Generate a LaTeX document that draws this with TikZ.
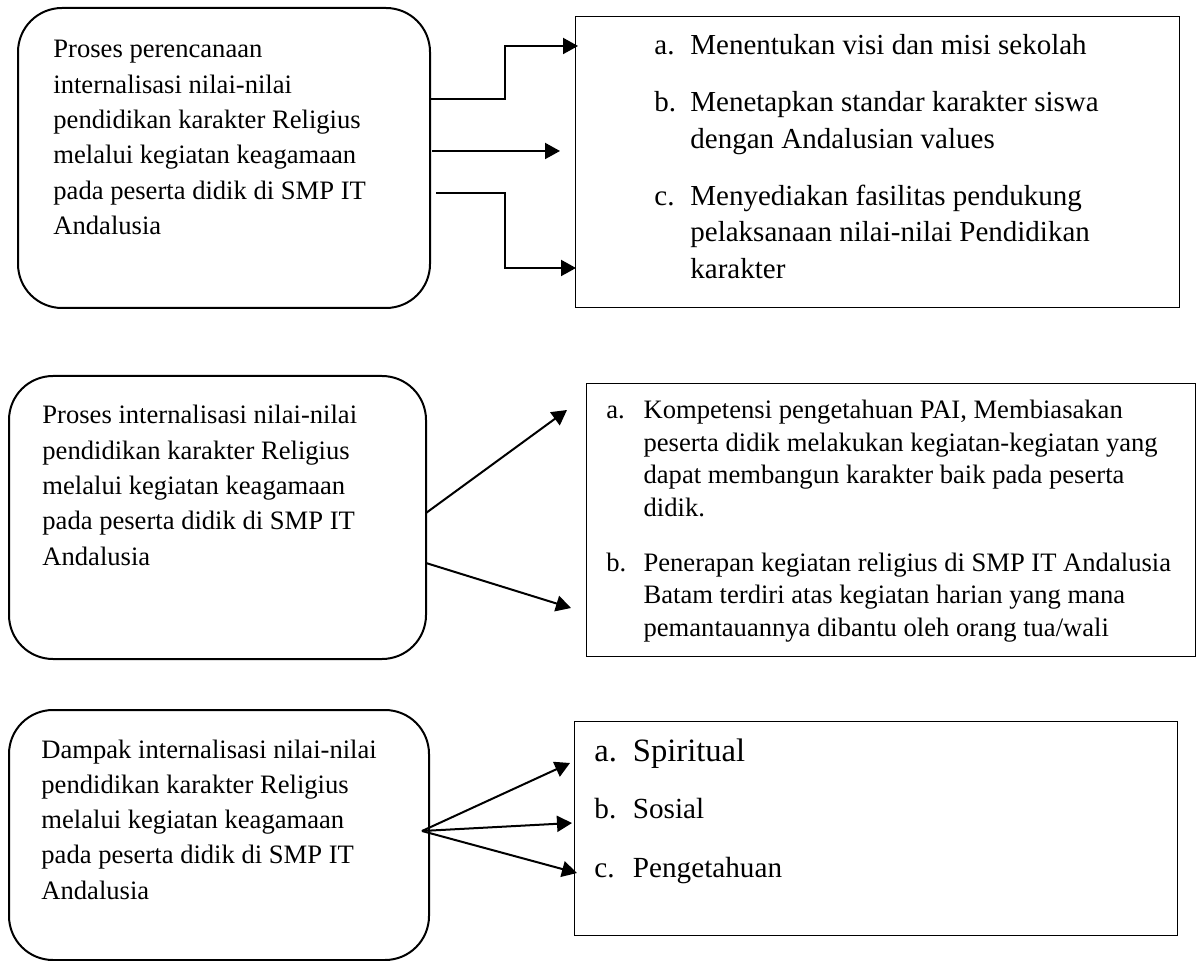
\documentclass[tikz,border=0pt]{standalone}
\usepackage{fontspec}
\setmainfont{Liberation Serif}
\usetikzlibrary{arrows.meta}

\begin{document}
\begin{tikzpicture}[x=0.5pt,y=-0.5pt,
  roundbox/.style={draw,line width=1pt,rounded corners=22pt,anchor=north west},
  listbox/.style={draw,line width=0.6pt,anchor=north west},
  link/.style={line width=1pt,-{Triangle[length=7.5pt,width=8pt]}},
  txt/.style={anchor=base west,inner sep=0pt,font=\fontsize{13.3}{17.65}\selectfont}]

\useasboundingbox (0,0) rectangle (1202,961);

% Left rounded boxes
\node[roundbox,minimum width=206pt,minimum height=150pt] (plan) at (17,7) {};
\node[roundbox,minimum width=208.5pt,minimum height=141.5pt] (proc) at (8,375) {};
\node[roundbox,minimum width=210pt,minimum height=125pt] (impact) at (8,709) {};

% Right list boxes
\node[listbox,minimum width=302pt,minimum height=145.5pt] (planlist) at (575,16) {};
\node[listbox,minimum width=304.5pt,minimum height=136.5pt] (proclist) at (586,383) {};
\node[listbox,minimum width=301.5pt,minimum height=107pt] (impactlist) at (574,721) {};

% Texts in rounded boxes
\node[txt] (plantext) at (53,58) {\begin{tabular}[t]{@{}l@{}}Proses perencanaan\\internalisasi nilai-nilai\\pendidikan karakter Religius\\melalui kegiatan keagamaan\\pada peserta didik di SMP IT\\Andalusia\end{tabular}};
\node[txt] (proctext) at (42,424) {\begin{tabular}[t]{@{}l@{}}Proses internalisasi nilai-nilai\\pendidikan karakter Religius\\melalui kegiatan keagamaan\\pada peserta didik di SMP IT\\Andalusia\end{tabular}};
\node[txt] (impacttext) at (41,758) {\begin{tabular}[t]{@{}l@{}}Dampak internalisasi nilai-nilai\\pendidikan karakter Religius\\melalui kegiatan keagamaan\\pada peserta didik di SMP IT\\Andalusia\end{tabular}};

% Planning list
\node[txt,font=\fontsize{14.5}{18.25}\selectfont] (plantasks) at (654,55) {\begin{tabular}[t]{@{}p{18pt}@{}l@{}}
a. & Menentukan visi dan misi sekolah\\[10.25pt]
b. & Menetapkan standar karakter siswa\\
   & dengan Andalusian values\\[10.25pt]
c. & Menyediakan fasilitas pendukung\\
   & pelaksanaan nilai-nilai Pendidikan\\
   & karakter\end{tabular}};

% Process list
\node[txt,font=\fontsize{13.3}{16.25}\selectfont] (procsteps) at (606,419) {\begin{tabular}[t]{@{}p{18.6pt}@{}l@{}}
a. & Kompetensi pengetahuan PAI, Membiasakan\\
   & peserta didik melakukan kegiatan-kegiatan yang\\
   & dapat membangun karakter baik pada peserta\\
   & didik.\\[11.25pt]
b. & Penerapan kegiatan religius di SMP IT Andalusia\\
   & Batam terdiri atas kegiatan harian yang mana\\
   & pemantauannya dibantu oleh orang tua/wali\end{tabular}};

% Impact list
\node[txt,font=\fontsize{16.3}{18}\selectfont] (ra) at (594,761) {\makebox[19.25pt][l]{a.}Spiritual};
\node[txt,font=\fontsize{14.6}{18}\selectfont] (rb) at (594,818) {\makebox[19.25pt][l]{b.}Sosial};
\node[txt,font=\fontsize{14.6}{18}\selectfont] (rc) at (594,877) {\makebox[19.25pt][l]{c.}Pengetahuan};

% Planning arrows
\coordinate (p1) at (431,99);
\coordinate (p2) at (432,151);
\coordinate (p3) at (436,193);
\coordinate (e1) at (578,46);
\coordinate (e2) at (560,151);
\coordinate (e3) at (576,268);
\draw[link] (p1) -| (505,70) |- (e1);
\draw[link] (p2) -- (e2);
\draw[link] (p3) -| (505,230) |- (e3);

% Process arrows
\coordinate (s1) at (426,513);
\coordinate (s2) at (426,563);
\coordinate (f1) at (567,410);
\coordinate (f2) at (571,608);
\draw[link] (s1) -- (f1);
\draw[link] (s2) -- (f2);

% Impact arrows
\coordinate (o) at (422,831);
\coordinate (g1) at (570,763);
\coordinate (g2) at (572,823);
\coordinate (g3) at (577,873);
\draw[link] (o) -- (g1);
\draw[link] (o) -- (g2);
\draw[link] (o) -- (g3);

\end{tikzpicture}
\end{document}
